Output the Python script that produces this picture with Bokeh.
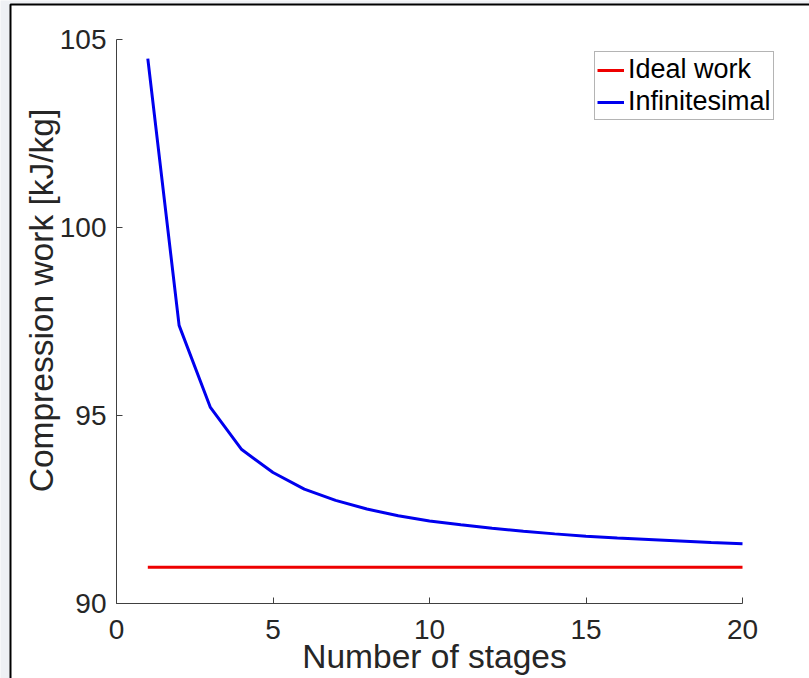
import math
from bokeh.plotting import figure
from bokeh.models import Legend, LegendItem, Label, BoxAnnotation, Range1d, FixedTicker
from bokeh.embed import file_html
from bokeh.resources import INLINE

# ---- data ----
stages = [1, 2, 3, 4, 5, 6, 7, 8, 9, 10, 11, 12, 13, 14, 15, 16, 17, 18, 19, 20]
infinitesimal = [104.48, 97.39, 95.21, 94.09, 93.48, 93.04, 92.74, 92.51, 92.33, 92.19,
                 92.09, 92.00, 91.92, 91.85, 91.79, 91.74, 91.70, 91.66, 91.62, 91.59]
ideal_work = [90.96] * 20
x_ticks = [0, 5, 10, 15, 20]
y_ticks = [90, 95, 100, 105]
x_title = "Number of stages"
y_title = "Compression work [kJ/kg]"
series_names = ["Ideal work", "Infinitesimal"]

FONT = "Liberation Sans"
TXT = "#262626"
W, H = 809, 678

# axes box in canvas pixels: x 0..20 -> 116..742, y 90..105 -> 603..38.5
X0, X1, Y0, Y1 = 116.0, 742.0, 603.0, 38.5
xs = (X1 - X0) / 20.0
ys = (Y0 - Y1) / 15.0
x_range = Range1d(0 - X0 / xs, 20 + (W - X1) / xs)
y_range = Range1d(90 - (H - Y0) / ys, 105 + Y1 / ys)

p = figure(width=W, height=H, output_backend="svg", toolbar_location=None,
           x_range=x_range, y_range=y_range,
           min_border=0, min_border_left=0, min_border_right=0,
           min_border_top=0, min_border_bottom=0)
p.outline_line_color = None
p.grid.visible = False
p.border_fill_color = "#eef0f4"
p.background_fill_color = "#eef0f4"

# white sheet with black top/left border (canvas units)
sheet = BoxAnnotation(left=10, right=W + 50, top=4, bottom=H + 50,
                      left_units="canvas", right_units="canvas", top_units="canvas", bottom_units="canvas",
                      fill_color="white", fill_alpha=1.0, line_color="black", line_alpha=1.0,
                      line_width=2, level="underlay")
p.add_layout(sheet)

r_ideal = p.line(stages, ideal_work, line_color="#ee0000", line_width=3)
r_inf = p.line(stages, infinitesimal, line_color="#0000ee", line_width=3)

for ax, ticks, bounds in ((p.xaxis[0], x_ticks, (0, 20)), (p.yaxis[0], y_ticks, (90, 105))):
    ax.ticker = FixedTicker(ticks=ticks)
    ax.bounds = bounds
    ax.minor_tick_line_color = None
    ax.major_tick_in = 6
    ax.major_tick_out = 0
    ax.axis_line_color = "#404040"
    ax.major_tick_line_color = "#404040"
    ax.major_label_text_font = FONT
    ax.major_label_text_font_size = "28px"
    ax.major_label_text_color = TXT
p.xaxis.fixed_location = 90
p.yaxis.fixed_location = 0
p.xaxis.major_label_standoff = 16
p.yaxis.major_label_standoff = 10

# axis titles
p.add_layout(Label(x=434, y=656, x_units="canvas", y_units="canvas", text=x_title,
                   text_font=FONT, text_font_size="33.5px", text_color=TXT,
                   text_align="center", text_baseline="middle"))
p.add_layout(Label(x=41, y=300, x_units="canvas", y_units="canvas", text=y_title,
                   angle=math.pi / 2, text_font=FONT, text_font_size="33.5px", text_color=TXT,
                   text_align="center", text_baseline="middle"))

legend = Legend(items=[LegendItem(label=series_names[0], renderers=[r_ideal]),
                       LegendItem(label=series_names[1], renderers=[r_inf])],
                location=(594, H - 120))
legend.label_text_font = FONT
legend.label_text_font_size = "27px"
legend.label_text_color = "black"
legend.glyph_width = 27
legend.glyph_height = 26
legend.label_height = 26
legend.label_standoff = 4
legend.padding = 2
legend.spacing = 1
legend.margin = 0
legend.border_line_color = "#6a6a6a"
legend.border_line_width = 1
legend.background_fill_color = "white"
legend.background_fill_alpha = 1.0
p.add_layout(legend)

open("out.html", "w").write(file_html(p, INLINE))
